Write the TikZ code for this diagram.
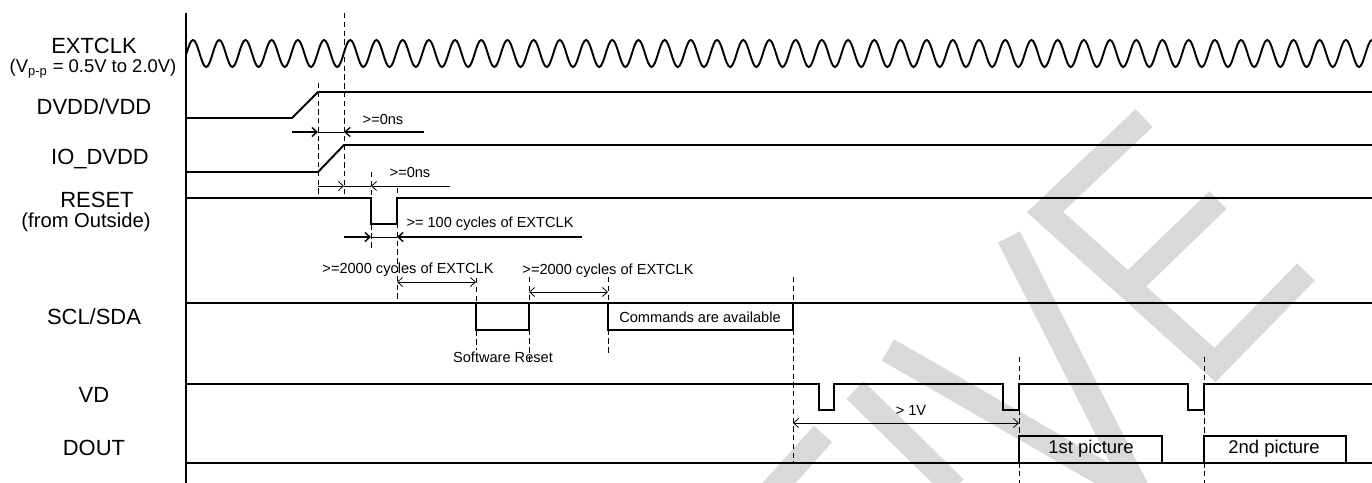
\documentclass[tikz,border=0pt]{standalone}
\usepackage{fontspec}
\setmainfont{Liberation Sans}
\usetikzlibrary{arrows.meta}

\begin{document}
\begin{tikzpicture}[x=0.02cm, y=-0.02cm, >={Straight Barb[length=1mm,width=1.8mm]},
  sig/.style={line width=1.1pt, line join=miter},
  guide/.style={densely dashed, line width=0.5pt},
  dim/.style={line width=0.45pt},
  dimthick/.style={line width=0.8pt},
  lbl/.style={font=\fontsize{12.5}{14}\selectfont},
  sublbl/.style={font=\fontsize{10.5}{12}\selectfont},
  note/.style={font=\fontsize{8.3}{10}\selectfont, inner sep=1pt},
  pic/.style={font=\fontsize{10.5}{12}\selectfont},
  wm/.style={line width=14pt, gray!30}]
	\clip (0,0) rectangle (1372,483);
	% watermark
	\draw[wm] (770,493) -- (823,434);
	\draw[wm] (855,390) -- (955,488);
	\draw[wm, line join=miter] (888,350) -- (1140,495) -- (1009,237);
	\draw[wm, line join=miter] (1144,118) -- (1045,212) -- (1215,365) -- (1306,272);
	\draw[wm] (1128,287) -- (1218,200);
	% signal names
	\node[lbl] (extclk) at (94,46) {EXTCLK};
	\node[sublbl] (vpp) at (93,69) {(V\textsubscript{p-p} = 0.5V to 2.0V)};
	\node[lbl] (dvdd) at (94,107) {DVDD/VDD};
	\node[lbl] (iodvdd) at (100,159) {IO\_DVDD};
	\node[lbl] (reset) at (97,200) {RESET};
	\node[sublbl, font=\fontsize{11.5}{13}\selectfont] (outside) at (86,222) {(from Outside)};
	\node[lbl] (scl) at (94,317) {SCL/SDA};
	\node[lbl] (vd) at (94,395) {VD};
	\node[lbl] (dout) at (94,448) {DOUT};
	\draw[line width=0.6pt] (186,13) -- (186,483);
	% guides
	\draw[guide] (344,13) -- (344,198);
	\draw[guide] (318,83) -- (318,195);
	\draw[guide] (371,172) -- (371,250);
	\draw[guide] (397,188) -- (397,303);
	\draw[guide] (476,278) -- (476,350);
	\draw[guide] (529,277) -- (529,362);
	\draw[guide] (608,277) -- (608,355);
	\draw[guide] (793,277) -- (793,462);
	\draw[guide] (1019,357) -- (1019,483);
	\draw[guide] (1204,357) -- (1204,483);
	% waveforms
	\draw[sig] (186.5,53.5) \foreach \i in {1,...,46}{ sin ++(6.55,-13.5) cos ++(6.55,13.5) sin ++(6.55,13.5) cos ++(6.55,-13.5)};
	\draw[sig] (186,118) -- (292,118) -- (318,92) -- (1372,92);
	\draw[sig] (186,172) -- (318,172) -- (344,145) -- (1372,145);
	\draw[sig] (186,198) -- (371,198) -- (371,224) -- (397,224) -- (397,198) -- (1372,198);
	\draw[sig] (186,303) -- (1372,303);
	\draw[sig] (476,303) -- (476,330) -- (529,330) -- (529,303);
	\draw[sig] (608,303) -- (608,330) -- (793,330) -- (793,303);
	\draw[sig] (186,384) -- (819,384) -- (819,410) -- (834,410) -- (834,384) -- (1003,384) -- (1003,410) -- (1019,410) -- (1019,384) -- (1188,384) -- (1188,410) -- (1204,410) -- (1204,384) -- (1372,384);
	\draw[sig] (186,463) -- (1372,463);
	\draw[sig] (1019,463) rectangle (1162,436);
	\draw[sig] (1204,463) rectangle (1346,436);
	% timings
	\draw[dimthick, ->] (292,132) -- (318,132);
	\draw[dim] (318,132) -- (344,132);
	\draw[dimthick, <-] (344,132) -- (424,132);
	\node[note] (t1) at (383,119) {>=0ns};
	\draw[dim, ->] (318,186) -- (344,186);
	\draw[dim] (344,186) -- (371,186);
	\draw[dim, <-] (371,186) -- (450,186);
	\node[note] (t2) at (410,172) {>=0ns};
	\draw[dimthick, ->] (344,237) -- (371,237);
	\draw[dim] (371,237) -- (397,237);
	\draw[dimthick, <-] (397,237) -- (582,237);
	\node[note] (t3) at (490,224) {>= 100 cycles of EXTCLK};
	\draw[dim, <->] (397,282) -- (476,282);
	\node[note] (t4) at (408,270) {>=2000 cycles of EXTCLK};
	\draw[dim, <->] (529,292) -- (608,292);
	\node[note] (t5) at (608,271) {>=2000 cycles of EXTCLK};
	\node[note] (swreset) at (503,357) {Software Reset};
	\node[note] (cmds) at (700,317) {Commands are available};
	\draw[dim, <->] (793,423) -- (1019,423);
	\node[note] (t6) at (911,410) {> 1V};
	\node[pic] (pic1) at (1091,449) {1st picture};
	\node[pic] (pic2) at (1274,449) {2nd picture};
\end{tikzpicture}
\end{document}
